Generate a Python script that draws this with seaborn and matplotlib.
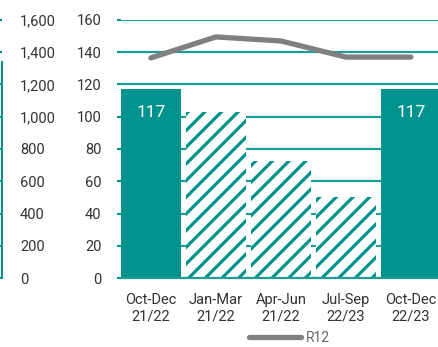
import matplotlib
matplotlib.use("Agg")
import matplotlib.pyplot as plt
import seaborn as sns
import pandas as pd
from matplotlib.lines import Line2D

periods = ["Oct-Dec\n21/22", "Jan-Mar\n21/22", "Apr-Jun\n21/22", "Jul-Sep\n22/23", "Oct-Dec\n22/23"]
quarter_values = [117, 103, 72.5, 50, 117]
r12_values = [1365, 1495, 1470, 1370, 1370]
bar_labels = ["117", "", "", "", "117"]
left_ticks = [0, 200, 400, 600, 800, 1000, 1200, 1400, 1600]
inner_ticks = [0, 20, 40, 60, 80, 100, 120, 140, 160]

TEAL = "#00928D"
GRID = "#1E9C96"
GREY = "#808080"
TXT = "#333333"

sns.set_theme(style="white")
plt.rcParams["font.family"] = ["Roboto", "DejaVu Sans"]
plt.rcParams["hatch.linewidth"] = 2.3
plt.rcParams["hatch.color"] = TEAL

df = pd.DataFrame({"period": periods, "value": quarter_values, "r12": r12_values})

fig = plt.figure(figsize=(4.38, 3.47), dpi=100)
ax = fig.add_axes([121 / 438, 69 / 347, 317 / 438, 258 / 347])

ax.set_axisbelow(True)
ax.grid(axis="y", color=GRID, linewidth=1.6, zorder=0)
sns.barplot(data=df, x="period", y="value", color=TEAL, width=0.92, saturation=1, ax=ax, zorder=3)
for i, p in enumerate(ax.patches):
    p.set_linewidth(0)
    p.set_zorder(3)
    if bar_labels[i] == "":
        p.set_facecolor("white")
        p.set_edgecolor(TEAL)
        p.set_hatch("//")
ax.bar_label(ax.containers[0], labels=bar_labels, padding=-22, color="white", fontsize=12.5, zorder=4)

ax.set_xlim(-0.46, 4.417)
ax.set_ylim(0, 160)
ax.set_yticks(inner_ticks)
ax.set_xlabel("")
ax.set_ylabel("")
for s in ["top", "right", "left"]:
    ax.spines[s].set_visible(False)
ax.spines["bottom"].set_color(GRID)
ax.spines["bottom"].set_linewidth(1.6)
ax.spines["bottom"].set_zorder(5)
ax.tick_params(axis="y", length=3, width=1.5, color=TEAL, pad=11, labelsize=10.5, labelcolor=TXT, left=True)
ax.tick_params(axis="x", length=0, pad=10.5, labelsize=10.5, labelcolor=TXT)
for t in ax.get_xticklabels():
    t.set_linespacing(1.25)

ax2 = ax.twinx()
sns.lineplot(data=df, x="period", y="r12", color=GREY, linewidth=3.8, ax=ax2, sort=False)
ax2.set_ylim(0, 1600)
ax2.set_yticks(left_ticks)
ax2.set_yticklabels([f"{v:,}" for v in left_ticks])
ax2.set_ylabel("")
ax2.set_xlabel("")
for s in ["top", "left", "bottom"]:
    ax2.spines[s].set_visible(False)
ax2.spines["right"].set_position(("axes", -119 / 317))
ax2.spines["right"].set_color(TEAL)
ax2.spines["right"].set_linewidth(1.5)
ax2.spines["right"].set_bounds(0, 1340)
ax2.tick_params(axis="y", length=3, width=1.5, color=TEAL, direction="in", pad=13,
                labelsize=10.5, labelcolor=TXT)
for t in ax2.get_yticklabels():
    t.set_horizontalalignment("left")

handle = Line2D([], [], color=GREY, linewidth=3.8, solid_capstyle="round")
fig.legend([handle], ["R12"], loc="lower center", bbox_to_anchor=(0.66, -0.03), frameon=False,
           fontsize=10, labelcolor="#666666", handlelength=3.8, handletextpad=0.3)

fig.savefig("out.png", dpi=100)
